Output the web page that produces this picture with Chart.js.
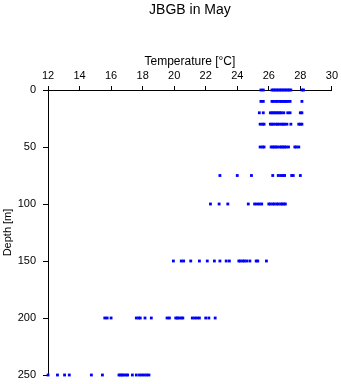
<!DOCTYPE html>
<html>
<head>
<meta charset="utf-8">
<script src="https://cdn.jsdelivr.net/npm/chart.js@4/dist/chart.umd.min.js"></script>
<style>
  html, body { margin: 0; padding: 0; background: #fff; }
  #chart { display: block; }
</style>
</head>
<body>
<canvas id="chart" width="341" height="384"></canvas>
<script>
// depth levels [m] and temperatures [°C] measured at each one
var depths = [0, 10, 20, 30, 50, 75, 100, 150, 200, 250];

var temp0   = [25.5, 25.65, 26.2, 26.3, 26.4, 26.5, 26.6, 26.7, 26.8, 26.9, 27.0, 27.1, 27.2, 27.3, 27.4, 28.1, 28.2];
var temp10  = [25.5, 25.65, 26.2, 26.3, 26.45, 26.55, 26.7, 26.8, 26.9, 27.0, 27.1, 27.2, 27.35, 28.1];
var temp20  = [25.4, 25.65, 26.1, 26.2, 26.3, 26.4, 26.5, 26.6, 26.7, 26.8, 26.95, 27.2, 27.35, 28.0, 28.1];
var temp30  = [25.45, 25.6, 25.7, 26.1, 26.2, 26.3, 26.45, 26.55, 26.65, 26.8, 26.9, 27.0, 27.15, 27.4, 27.9, 28.0, 28.1];
var temp50  = [25.45, 25.6, 25.7, 26.15, 26.25, 26.35, 26.45, 26.55, 26.7, 26.8, 26.9, 27.0, 27.1, 27.25, 27.65, 27.75, 27.9];
var temp75  = [22.9, 24.0, 24.9, 26.25, 26.6, 26.75, 26.9, 27.0, 27.45, 27.55, 28.0];
var temp100 = [22.3, 22.85, 23.4, 24.7, 25.1, 25.25, 25.4, 25.55, 26.0, 26.1, 26.25, 26.35, 26.5, 26.6, 26.75, 26.85, 26.95, 27.05];
var temp150 = [19.95, 20.45, 20.6, 21.05, 21.6, 22.1, 22.55, 22.9, 23.3, 23.5, 24.1, 24.2, 24.35, 24.45, 24.6, 24.8, 25.2, 25.3, 25.85];
var temp200 = [15.6, 15.75, 16.0, 17.6, 17.75, 17.85, 18.15, 18.55, 19.55, 19.7, 20.1, 20.2, 20.3, 20.45, 20.55, 21.15, 21.3, 21.45, 21.6, 22.0, 22.2, 22.6];
var temp250 = [12.0, 12.6, 13.05, 13.35, 14.75, 15.45, 16.5, 16.6, 16.7, 16.8, 16.95, 17.05, 17.35, 17.6, 17.8, 17.95, 18.1, 18.25, 18.4];

var tempsByDepth = [temp0, temp10, temp20, temp30, temp50, temp75, temp100, temp150, temp200, temp250];

var points = [];
depths.forEach(function(d, i) {
    tempsByDepth[i].forEach(function(t) { points.push({ x: t, y: d }); });
});

var font = "'Liberation Sans', Arial, Helvetica, sans-serif";

// title centred over the plot area, not the whole canvas
var plotTitle = {
    id: "plotTitle",
    afterDraw: function(chart) {
        var ctx = chart.ctx, area = chart.chartArea;
        ctx.save();
        ctx.fillStyle = "#000";
        ctx.font = "14px " + font;
        ctx.textAlign = "center";
        ctx.textBaseline = "middle";
        ctx.fillText("JBGB in May", (area.left + area.right) / 2, 10);
        ctx.restore();
    }
};

new Chart(document.getElementById("chart"), {
    type: "scatter",
    data: {
        datasets: [{
            data: points,
            backgroundColor: "#0000ff",
            borderWidth: 0,
            pointStyle: "rect",
            pointRadius: 2,
            clip: false
        }]
    },
    options: {
        responsive: false,
        animation: false,
        devicePixelRatio: 1,
        layout: { padding: { left: 0, right: 7, top: 50, bottom: 9 } },
        plugins: {
            legend: { display: false },
            tooltip: { enabled: false },
            title: { display: false }
        },
        scales: {
            x: {
                type: "linear",
                position: "top",
                min: 12,
                max: 30,
                afterFit: function(scale) { scale.height = 40; },
                ticks: { stepSize: 2, color: "#000", padding: 3, maxRotation: 0,
                         font: { family: font, size: 11 } },
                grid: { drawOnChartArea: false, drawTicks: true, tickLength: 4, color: "#000" },
                border: { display: true, color: "#000", width: 1 },
                title: { display: true, text: "Temperature [°C]", color: "#000",
                         font: { family: font, size: 12 }, padding: { top: 4, bottom: 0 } }
            },
            y: {
                type: "linear",
                reverse: true,
                min: 0,
                max: 250,
                afterFit: function(scale) {
                    scale.width = 48;
                    scale.paddingTop = 0;
                    scale.paddingBottom = 0;
                },
                ticks: { stepSize: 50, color: "#000", padding: 7,
                         font: { family: font, size: 11 } },
                grid: { drawOnChartArea: false, drawTicks: true, tickLength: 5, color: "#000" },
                border: { display: true, color: "#000", width: 1 },
                title: { display: true, text: "Depth [m]", color: "#000",
                         font: { family: font, size: 11 }, padding: { top: 1, bottom: 0 } }
            }
        }
    },
    plugins: [plotTitle]
});
</script>
</body>
</html>
